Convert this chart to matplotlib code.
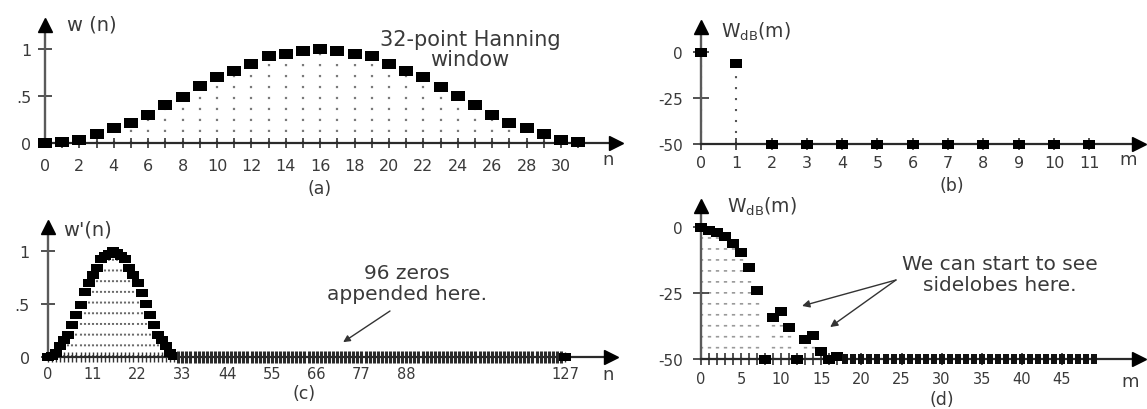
import matplotlib
matplotlib.use("Agg")
import matplotlib.pyplot as plt
from matplotlib.path import Path
from matplotlib.ticker import FixedLocator

# ---------------- data ----------------
# (a) 32-point Hanning window w(n)
n_a = list(range(32))
w_a = [0.0, 0.01, 0.035, 0.10, 0.16, 0.21, 0.30, 0.40, 0.49, 0.61, 0.70, 0.77,
       0.84, 0.92, 0.95, 0.975, 1.0, 0.98, 0.95, 0.92, 0.84, 0.77, 0.70, 0.60,
       0.50, 0.40, 0.30, 0.21, 0.16, 0.10, 0.035, 0.01]
a_xticks = [0, 2, 4, 6, 8, 10, 12, 14, 16, 18, 20, 22, 24, 26, 28, 30]
a_yticks = [0, 0.5, 1]
a_yticklabels = ["0", ".5", "1"]

# (b) 32-point DFT magnitude in dB (clipped at -50)
m_b = list(range(12))
W_b = [0, -6, -50, -50, -50, -50, -50, -50, -50, -50, -50, -50]
b_yticks = [0, -25, -50]
b_yticklabels = ["0", "-25", "-50"]

# (c) window with 96 zeros appended, w'(n)
n_c_window = list(range(32))
w_c_window = [0.0, 0.01, 0.035, 0.10, 0.16, 0.21, 0.30, 0.40, 0.49, 0.61, 0.70, 0.77,
              0.84, 0.92, 0.95, 0.975, 1.0, 0.98, 0.95, 0.92, 0.84, 0.77, 0.70, 0.60,
              0.50, 0.40, 0.30, 0.21, 0.16, 0.10, 0.035, 0.01]
n_c_zeros = list(range(32, 127))
w_c_zeros = [0.0] * 95
n_c_last = [127]
w_c_last = [0.0]
c_xticks = [0, 11, 22, 33, 44, 55, 66, 77, 88, 127]
c_yticks = [0, 0.5, 1]
c_yticklabels = ["0", ".5", "1"]

# (d) 128-point DFT magnitude in dB (clipped at -50)
m_d_main = list(range(18))
W_d_main = [0, -1, -2, -3.5, -6.2, -9.6, -15, -24, -50, -34, -32, -38, -50,
            -42.5, -41, -47, -50, -49]
m_d_tail = list(range(18, 50))
W_d_tail = [-50] * 32
d_xticks = [0, 5, 10, 15, 20, 25, 30, 35, 40, 45]
d_yticks = [0, -25, -50]
d_yticklabels = ["0", "-25", "-50"]

# ---------------- figure ----------------
plt.rcParams['font.family'] = ['DejaVu Sans']
plt.rcParams['lines.scale_dashes'] = False

W, H = 1147, 410
fig = plt.figure(figsize=(W / 100, H / 100), dpi=100)
TXT = '#3a3a3a'

rect_marker = Path([(-1, -0.72), (1, -0.72), (1, 0.72), (-1, 0.72), (-1, -0.72)], closed=True)
thin_marker = Path([(-0.26, -0.5), (0.26, -0.5), (0.26, 0.5), (-0.26, 0.5), (-0.26, -0.5)], closed=True)


def axes_px(left, right, bottom, top):
    return fig.add_axes([left / W, (H - bottom) / H, (right - left) / W, (bottom - top) / H])


def style(ax, xlim, ylim):
    ax.set_xlim(*xlim)
    ax.set_ylim(*ylim)
    ax.patch.set_alpha(0)
    for s in ['top', 'right']:
        ax.spines[s].set_visible(False)
    ax.spines['left'].set_color('#5a5a5a')
    ax.spines['left'].set_linewidth(1.7)
    ax.spines['bottom'].set_color('#2a2a2a')
    ax.spines['bottom'].set_linewidth(1.6)
    ax.plot([0], [1], marker='^', ms=9.5, color='black', transform=ax.transAxes,
            clip_on=False, zorder=6)
    ax.plot([1], [0], marker='>', ms=9.5, color='black', transform=ax.transAxes,
            clip_on=False, zorder=6)


def ptext(x, y, s, size=13, **kw):
    fig.text(x / W, 1 - y / H, s, fontsize=size, color=TXT, ha='center', va='center', **kw)


# ---- (a) ----
ax = axes_px(45, 616, 144, 26)
style(ax, (0, 33.2), (0, 1.255))
ax.vlines(n_a, 0, w_a, colors='#7a7a7a', linewidth=1.6,
          linestyles=[(0, (1.6, 6.3))], zorder=1)
ax.plot(n_a, w_a, ls='none', marker=rect_marker, ms=9.5, color='black', mew=0,
        clip_on=False, zorder=4)
ax.xaxis.set_major_locator(FixedLocator(a_xticks))
ax.xaxis.set_minor_locator(FixedLocator(n_a))
ax.set_xticklabels([str(v) for v in a_xticks])
ax.set_yticks(a_yticks)
ax.set_yticklabels(a_yticklabels)
ax.tick_params(axis='x', which='both', direction='inout', length=7, width=1.2,
               color='#333', labelsize=11.5, pad=7, labelcolor=TXT)
ax.tick_params(axis='y', direction='inout', length=10, width=1.2, color='#333',
               labelsize=11.5, pad=5, labelcolor=TXT)
ptext(92, 25, "w (n)", 14)
ptext(608, 160, "n", 13)
ptext(470, 50, "32-point Hanning\nwindow", 15, linespacing=1.0)
ptext(320, 189, "(a)", 12.5)

# ---- (b) ----
ax = axes_px(701, 1139, 145, 28)
style(ax, (0, 12.41), (-50, 13.6))
ax.vlines(m_b, -50, W_b, colors='#555555', linewidth=1.5,
          linestyles=[(0, (1.5, 6.4))], zorder=1)
ax.plot(m_b, W_b, ls='none', marker=rect_marker, ms=9, color='black', mew=0,
        clip_on=False, zorder=4)
ax.set_xticks(m_b)
ax.set_xticklabels([str(v) for v in m_b])
ax.set_yticks(b_yticks)
ax.set_yticklabels(b_yticklabels)
ax.tick_params(axis='x', direction='inout', length=8, width=1.2, color='#333',
               labelsize=11.5, pad=4, labelcolor=TXT)
ax.tick_params(axis='y', direction='inout', length=12, width=1.2, color='#333',
               labelsize=11, pad=7, labelcolor=TXT)
ptext(756, 32, r"W$_{\mathregular{dB}}$(m)", 13.5)
ptext(1128, 160, "m", 13)
ptext(952, 186, "(b)", 12.5)

# ---- (c) ----
ax = axes_px(48, 611, 358, 228)
style(ax, (0, 138.3), (0, 1.226))
ax.vlines(n_c_window, 0, w_c_window, colors='#6a6a6a', linewidth=1.5,
          linestyles=[(0, (1.4, 6.3))], zorder=1)
ax.plot(n_c_window, w_c_window, ls='none', marker=rect_marker, ms=8.5, color='black',
        mew=0, clip_on=False, zorder=4)
ax.plot(n_c_zeros, w_c_zeros, ls='none', marker='|', ms=8, mew=2.2, color='#2a2a2a',
        clip_on=False, zorder=4)
ax.plot(n_c_last, w_c_last, ls='none', marker=rect_marker, ms=8.5, color='black',
        mew=0, clip_on=False, zorder=4)
ax.xaxis.set_major_locator(FixedLocator(c_xticks))
ax.xaxis.set_minor_locator(FixedLocator(n_c_window))
ax.set_xticklabels([str(v) for v in c_xticks])
ax.set_yticks(c_yticks)
ax.set_yticklabels(c_yticklabels)
ax.tick_params(axis='x', which='both', direction='inout', length=7, width=1.0,
               color='#333', labelsize=10.5, pad=3, labelcolor=TXT)
ax.tick_params(axis='y', direction='inout', length=10, width=1.2, color='#333',
               labelsize=11.5, pad=8, labelcolor=TXT)
ptext(88, 230, "w'(n)", 14)
ptext(608, 375, "n", 13)
ptext(304, 394, "(c)", 12.5)
ptext(407, 284, "96 zeros\nappended here.", 14.5, linespacing=1.1)
ax.annotate('', xy=(72.5, 0.14), xycoords='data', xytext=(390, H - 312),
            textcoords='figure pixels',
            arrowprops=dict(arrowstyle='-|>', color='#333', lw=1.0, mutation_scale=10,
                            shrinkA=0, shrinkB=0))

# ---- (d) ----
ax = axes_px(701, 1139, 360, 207)
style(ax, (0, 54.6), (-50, 7.95))
ax.vlines(m_d_main, -50, W_d_main, colors='#999999', linewidth=2.4,
          linestyles=[(0, (1.2, 6.7))], zorder=1)
ax.plot(m_d_main, W_d_main, ls='none', marker=rect_marker, ms=9, color='black',
        mew=0, clip_on=False, zorder=4)
ax.plot(m_d_tail, W_d_tail, ls='none', marker=thin_marker, ms=7.5, color='#111111',
        mew=0, clip_on=False, zorder=4)
ax.xaxis.set_major_locator(FixedLocator(d_xticks))
ax.xaxis.set_minor_locator(FixedLocator(m_d_main))
ax.set_xticklabels([str(v) for v in d_xticks])
ax.set_yticks(d_yticks)
ax.set_yticklabels(d_yticklabels)
ax.tick_params(axis='x', which='both', direction='inout', length=8, width=1.2,
               color='#333', labelsize=10.5, pad=5, labelcolor=TXT)
ax.tick_params(axis='y', direction='inout', length=12, width=1.2, color='#333',
               labelsize=11, pad=7, labelcolor=TXT)
ptext(762, 207, r"W$_{\mathregular{dB}}$(m)", 13.5)
ptext(1130, 382, "m", 13)
ptext(942, 400, "(d)", 12.5)
ptext(1000, 275, "We can start to see\nsidelobes here.", 14.5, linespacing=1.1)
for tip in [(12.6, -29.9), (16.1, -37.9)]:
    ax.annotate('', xy=tip, xycoords='data', xytext=(896, H - 281),
                textcoords='figure pixels',
                arrowprops=dict(arrowstyle='-|>', color='#333', lw=1.0,
                                mutation_scale=11, shrinkA=0, shrinkB=0))

fig.savefig("out.png", dpi=100)
